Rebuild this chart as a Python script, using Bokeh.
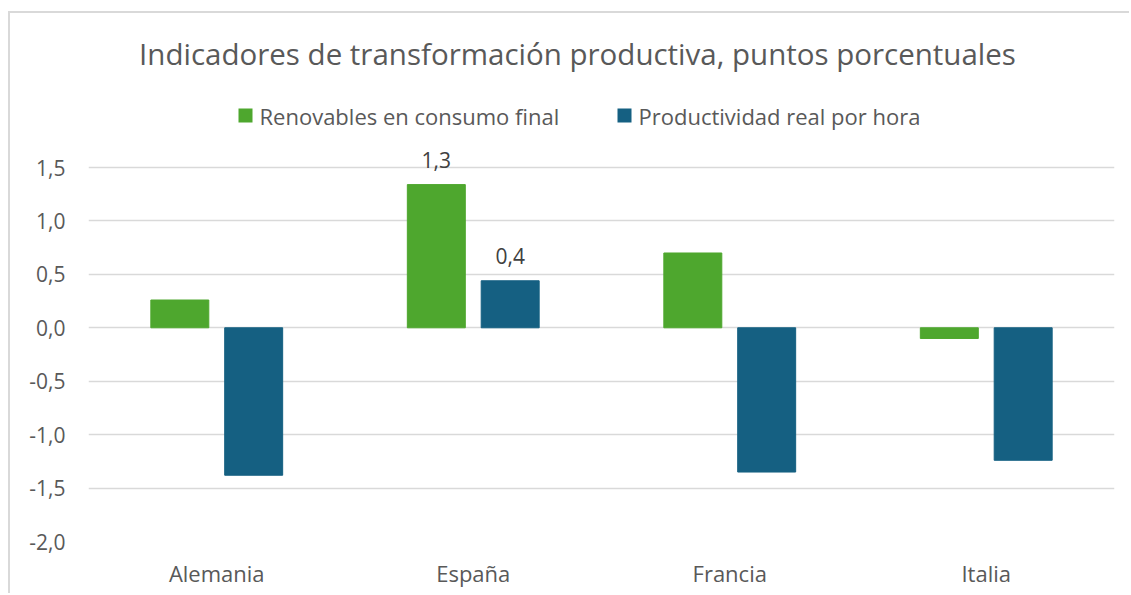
from bokeh.plotting import figure
from bokeh.models import (FactorRange, Range1d, FixedTicker, CustomJSTickFormatter,
                          Label, BoxAnnotation, ColumnDataSource)
from bokeh.transform import dodge
from bokeh.embed import file_html
from bokeh.resources import INLINE

# ---------------- data ----------------
categories = ["Alemania", "España", "Francia", "Italia"]
renovables = [0.26, 1.34, 0.70, -0.10]
productividad = [-1.38, 0.44, -1.35, -1.24]
labeled_categories = ["España"]
y_ticks = [-2.0, -1.5, -1.0, -0.5, 0.0, 0.5, 1.0, 1.5]
title_text = "Indicadores de transformación productiva, puntos porcentuales"
series_names = ["Renovables en consumo final", "Productividad real por hora"]
colors = ["#4EA72E", "#156082"]

# ---------------- layout (page pixels) ----------------
FONT = "Open Sans"
TXT = "#595959"
OX, OY = 10, 13              # figure origin on the page (after css margin + border)
W, H = 1121, 582
PLOT_L, PLOT_R = 88, 1114    # plot area horizontal extent on page
Y_TOP_PX, Y_BOT_PX = 167, 541  # page y of top tick and bottom tick
Y0, Y1 = y_ticks[0], y_ticks[-1]
PPU = (Y_BOT_PX - Y_TOP_PX) / (Y1 - Y0)          # pixels per data unit
Y_END = Y1 + (Y_TOP_PX - OY) / PPU                # frame reaches the figure top
L = PLOT_L - OX
R = W - (PLOT_R - OX)
B = H - (Y_BOT_PX - OY)


def px_x(px):
    return (px - PLOT_L) / (PLOT_R - PLOT_L) * len(categories)


def px_y(py):
    return Y1 + (Y_TOP_PX - py) / PPU


def fmt(v):
    return f"{v:.1f}".replace(".", ",")


p = figure(x_range=FactorRange(factors=categories, range_padding=0),
           y_range=Range1d(Y0, Y_END), width=W, height=H,
           output_backend="svg", toolbar_location=None,
           min_border_left=L, min_border_right=R, min_border_top=0, min_border_bottom=B)
p.styles = {"margin-left": "8px", "margin-top": "11px",
            "border-left": "2px solid #D9D9D9", "border-top": "2px solid #D9D9D9"}
p.background_fill_color = "white"
p.border_fill_color = "white"
p.outline_line_color = None

src = ColumnDataSource(dict(cat=categories, ren=renovables, prod=productividad))
OFF, BW = 0.144, 0.226
p.vbar(x=dodge("cat", -OFF, range=p.x_range), top="ren", bottom=0, width=BW, source=src,
       fill_color=colors[0], line_color=colors[0])
p.vbar(x=dodge("cat", OFF, range=p.x_range), top="prod", bottom=0, width=BW, source=src,
       fill_color=colors[1], line_color=colors[1])

# axes
p.yaxis.ticker = FixedTicker(ticks=y_ticks)
p.yaxis.formatter = CustomJSTickFormatter(code="return tick.toFixed(1).replace('.', ',');")
for ax in (p.xaxis[0], p.yaxis[0]):
    ax.axis_line_color = None
    ax.major_tick_line_color = None
    ax.minor_tick_line_color = None
    ax.major_tick_out = 0
    ax.major_tick_in = 0
    ax.minor_tick_out = 0
    ax.major_label_text_font = FONT
    ax.major_label_text_color = TXT
p.yaxis.major_label_text_font_size = "21px"
p.xaxis.major_label_text_font_size = "22px"
p.yaxis.major_label_standoff = 23
p.xaxis.major_label_standoff = 16
p.xgrid.grid_line_color = None
p.ygrid.grid_line_color = "#D9D9D9"
p.ygrid.grid_line_width = 1.3

# data labels
for c in labeled_categories:
    i = categories.index(c)
    for vals, off in ((renovables, -OFF), (productividad, OFF)):
        v = vals[i]
        p.add_layout(Label(x=i + 0.5 + off, y=v, text=fmt(v), y_offset=25,
                           text_align="center", text_baseline="middle",
                           text_font=FONT, text_font_size="21px", text_color="#404040"))

# title
p.add_layout(Label(x=px_x(577), y=px_y(52.5), text=title_text, text_align="center",
                   text_baseline="middle", text_font=FONT, text_font_size="29.5px",
                   text_color=TXT))

# legend
legend_sq = [(238, 252), (617, 631)]
for (x0, x1), name, col in zip(legend_sq, series_names, colors):
    p.add_layout(BoxAnnotation(left=px_x(x0), right=px_x(x1), top=px_y(108), bottom=px_y(122),
                               fill_color=col, fill_alpha=1, line_color=None))
    p.add_layout(Label(x=px_x(x1 + 7), y=px_y(115), text=name, text_align="left",
                       text_baseline="middle", text_font=FONT, text_font_size="22px",
                       text_color=TXT))

open("out.html", "w").write(file_html(p, INLINE))
